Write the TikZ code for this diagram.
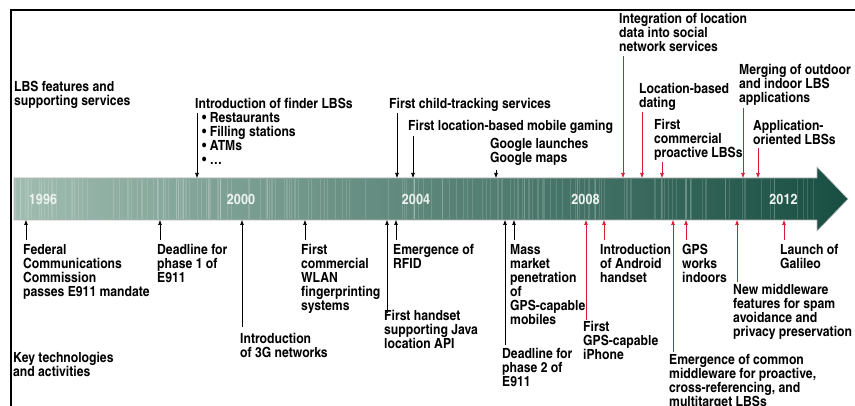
\documentclass[tikz,border=0pt]{standalone}
\usepackage{fontspec}
\setmainfont{texgyreheroscn}[Extension=.otf,UprightFont=*-regular,BoldFont=*-bold,FakeStretch=1.06]
\usetikzlibrary{arrows.meta}
\definecolor{evred}{RGB}{214,28,52}
\definecolor{bandlight}{RGB}{160,188,176}
\definecolor{banddark}{RGB}{24,78,66}
\definecolor{yeartext}{RGB}{236,242,238}

\begin{document}
\begin{tikzpicture}[x=1pt,y=-1pt]

      \useasboundingbox (0,0) rectangle (855,406);

      % frame
      \draw[line width=1.5pt] (855,10) -- (11,10) -- (11,406);

      % time band
      \path[left color=bandlight,right color=banddark,draw=gray!55,line width=0.6pt]
        (14,178) -- (817,178) -- (817,167) -- (848,199) -- (817,231) -- (817,220) -- (14,220) -- cycle;
      \pgfmathsetseed{11}
      \foreach \i in {1,...,190} {
        \pgfmathsetmacro\sx{15+rnd*832}
        \ifdim\sx pt<817pt
          \draw[white,opacity=0.15,line width=0.7pt] (\sx,178.6) -- (\sx,219.4);
        \fi
      }
      \coordinate (bandN) at (0,178);
      \coordinate (bandS) at (0,220);

      \begin{scope}[every node/.style={text=yeartext,font=\bfseries\fontsize{14.5}{14}\selectfont}]
        \node (y1996) at (43,199.5) {1996};
        \node (y2000) at (241,199.5) {2000};
        \node (y2004) at (416,199.5) {2004};
        \node (y2008) at (585.5,199.5) {2008};
        \node (y2012) at (783.5,199.5) {2012};
      \end{scope}

      \begin{scope}[every node/.style={anchor=north west,inner sep=0pt,align=left,
          font=\bfseries\fontsize{14}{14}\selectfont}]
        % above the band
        \node (lbsfeat) at (14,81)   {LBS features and\\supporting services};
        \node (finder)  at (195,98)  {Introduction of finder LBSs\\
          \hspace*{7pt}\textbullet\ Restaurants\\
          \hspace*{7pt}\textbullet\ Filling stations\\
          \hspace*{7pt}\textbullet\ ATMs\\
          \hspace*{7pt}\textbullet\ \dots};
        \node (child)   at (389,98)  {First child-tracking services};
        \node (gaming)  at (408,120) {First location-based mobile gaming};
        \node (google)  at (490,138) {Google launches\\Google maps};
        \node (social)  at (619,13)  {Integration of location\\data into social\\network services};
        \node (dating)  at (639,83)  {Location-based\\dating};
        \node (proact)  at (654,119) {First\\commercial\\proactive LBSs};
        \node (merging) at (739,64)  {Merging of outdoor\\and indoor LBS\\applications};
        \node (applic)  at (753,120) {Application-\\oriented LBSs};

        % below the band
        \node (keytech) at (13,352)  {Key technologies\\and activities};
        \node (fcc)     at (23,244)  {Federal\\Communications\\Commission\\passes E911 mandate};
        \node (phaseA)  at (157,244) {Deadline for\\phase 1 of\\E911};
        \node (threeg)  at (240,333) {Introduction\\of 3G networks};
        \node (wlan)    at (301,244) {First\\commercial\\WLAN\\fingerprinting\\systems};
        \node (java)    at (384,310) {First handset\\supporting Java\\location API};
        \node (rfid)    at (393,244) {Emergence of\\RFID};
        \node (massmkt) at (510,244) {Mass\\market\\penetration\\of\\GPS-capable\\mobiles};
        \node (phaseB)  at (502,348) {Deadline for\\phase 2 of\\E911};
        \node (iphone)  at (583,321) {First\\GPS-capable\\iPhone};
        \node (android) at (600,244) {Introduction\\of Android\\handset};
        \node (gpsin)   at (682,244) {GPS\\works\\indoors};
        \node (mware)   at (669,354) {Emergence of common\\middleware for proactive,\\cross-referencing, and\\multitarget LBSs};
        \node (spam)    at (733,284) {New middleware\\features for spam\\avoidance and\\privacy preservation};
        \node (galileo) at (780,244) {Launch of\\Galileo};
      \end{scope}

      % free ends of the pointers
      \coordinate (finder-p)  at (197,113);
      \coordinate (child-p)   at (397,113);
      \coordinate (gaming-p)  at (413,136);
      \coordinate (google-p)  at (496,170);
      \coordinate (social-p)  at (623,56);
      \coordinate (dating-p)  at (642,112);
      \coordinate (proact-p)  at (662,162);
      \coordinate (merging-p) at (743,108);
      \coordinate (applic-p)  at (758,148);
      \coordinate (fcc-p)     at (26,240);
      \coordinate (phaseA-p)  at (160,240);
      \coordinate (threeg-p)  at (242,327);
      \coordinate (wlan-p)    at (305,240);
      \coordinate (java-p)    at (387,313);
      \coordinate (rfid-p)    at (396,240);
      \coordinate (phaseB-p)  at (505,345);
      \coordinate (massmkt-p) at (514,240);
      \coordinate (iphone-p)  at (586,320);
      \coordinate (android-p) at (604,240);
      \coordinate (mware-p)   at (673,352);
      \coordinate (gpsin-p)   at (686,240);
      \coordinate (spam-p)    at (737,282);
      \coordinate (galileo-p) at (784,240);

      \begin{scope}[every edge/.style={draw,line width=0.6pt,-{Latex[length=5pt,width=4pt]}}]
        \path (finder-p)  edge (finder-p |- bandN);
        \path (child-p)   edge (child-p |- bandN);
        \path (gaming-p)  edge (gaming-p |- bandN);
        \path (google-p)  edge (google-p |- bandN);
        \path (fcc-p)     edge (fcc-p |- bandS);
        \path (phaseA-p)  edge (phaseA-p |- bandS);
        \path (threeg-p)  edge (threeg-p |- bandS);
        \path (wlan-p)    edge (wlan-p |- bandS);
        \path (java-p)    edge (java-p |- bandS);
        \path (rfid-p)    edge (rfid-p |- bandS);
        \path (phaseB-p)  edge (phaseB-p |- bandS);
        \path (massmkt-p) edge (massmkt-p |- bandS);
      \end{scope}

      \begin{scope}[every edge/.style={draw=evred,line width=0.6pt,-{Latex[length=5pt,width=4pt]}}]
        \path (social-p)  edge (social-p |- bandN);
        \path (dating-p)  edge (dating-p |- bandN);
        \path (proact-p)  edge (proact-p |- bandN);
        \path (merging-p) edge (merging-p |- bandN);
        \path (applic-p)  edge (applic-p |- bandN);
        \path (iphone-p)  edge (iphone-p |- bandS);
        \path (android-p) edge (android-p |- bandS);
        \path (mware-p)   edge (mware-p |- bandS);
        \path (gpsin-p)   edge (gpsin-p |- bandS);
        \path (spam-p)    edge (spam-p |- bandS);
        \path (galileo-p) edge (galileo-p |- bandS);
      \end{scope}

    \end{tikzpicture}
\end{document}
